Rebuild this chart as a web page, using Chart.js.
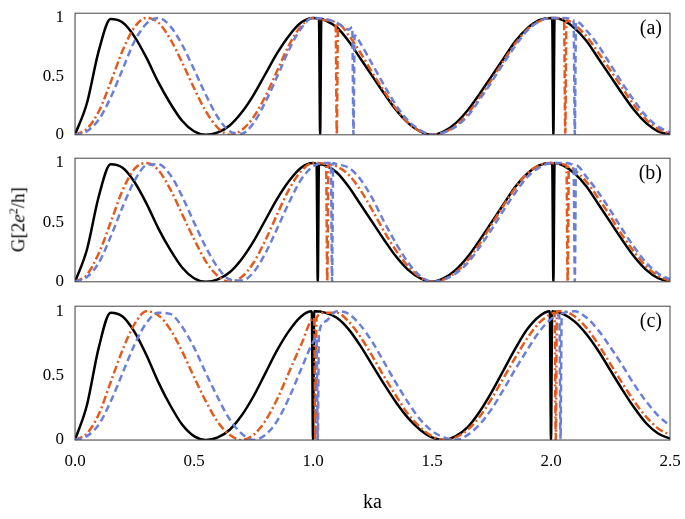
<!DOCTYPE html>
<html><head><meta charset="utf-8">
<script src="https://cdn.jsdelivr.net/npm/chart.js@4"></script>
<style>
body{margin:0;background:#fff;width:685px;height:519px;position:relative;overflow:hidden;font-family:"Liberation Serif",serif}
.p{position:absolute;left:0;width:685px}
#ylab{position:absolute;left:-32px;top:208px;width:100px;text-align:center;font-size:19px;transform:rotate(-90deg)}
</style></head><body>
<div class="p" style="top:0;height:148px"><canvas id="ca"></canvas></div>
<div class="p" style="top:145px;height:150px"><canvas id="cb"></canvas></div>
<div class="p" style="top:293px;height:226px"><canvas id="cc"></canvas></div>
<div id="ylab">G[2<i>e</i><sup style="font-size:12px">2</sup>/h]</div>
<script>
// ka grid, 0 .. 2.5 step 0.05
const kaGrid = [0,.05,.1,.15,.2,.25,.3,.35,.4,.45,.5,.55,.6,.65,.7,.75,.8,.85,.9,.95,1,1.05,1.1,1.15,1.2,1.25,1.3,1.35,1.4,1.45,1.5,1.55,1.6,1.65,1.7,1.75,1.8,1.85,1.9,1.95,2,2.05,2.1,2.15,2.2,2.25,2.3,2.35,2.4,2.45,2.5];
const xTicks = [0, 0.5, 1, 1.5, 2, 2.5];
const yTicks = [0, 0.5, 1];

// panel (a)
const aBlack  = [0,.27,.72,.99,.96,.84,.66,.45,.27,.12,.03,0,.02,.08,.19,.34,.52,.7,.85,.96,1,.98,.92,.8,.65,.5,.35,.21,.1,.03,0,.03,.1,.21,.35,.5,.65,.8,.91,.98,1,.98,.91,.8,.65,.5,.35,.21,.1,.03,0];
const aOrange = [0,.05,.2,.45,.72,.92,1,.96,.82,.62,.4,.2,.06,0,.04,.15,.33,.55,.77,.93,1,.98,.94,.85,.7,.53,.37,.22,.1,.03,0,.02,.08,.18,.32,.47,.63,.78,.9,.97,1,.99,.94,.84,.7,.55,.4,.25,.13,.05,.01];
const aBlue   = [0,.03,.13,.32,.56,.8,.95,1,.93,.77,.56,.34,.15,.03,.01,.1,.28,.5,.73,.91,1,.99,.96,.9,.78,.6,.42,.25,.12,.04,0,.02,.07,.16,.3,.45,.61,.76,.89,.97,1,1,.97,.89,.76,.6,.44,.29,.16,.07,.02];
const aBlackDipX  = [1.025,1.03,1.035, 2.005,2.01,2.015], aBlackDipY  = [.99,0,.99, 1,0,1];
const aOrangeDipX = [1.095,1.1,1.105, 2.055,2.06,2.065], aOrangeDipY = [.96,0,.95, .99,0,.98];
const aBlueDipX   = [1.165,1.17,1.175, 2.095,2.1,2.105], aBlueDipY   = [.92,0,.85, .98,0,.97];

// panel (b)
const bBlack  = [0,.27,.72,.99,.96,.84,.66,.45,.27,.12,.03,0,.02,.08,.19,.34,.52,.7,.85,.96,1,.98,.92,.8,.65,.5,.35,.21,.1,.03,0,.03,.1,.21,.35,.5,.65,.8,.91,.98,1,.98,.91,.8,.65,.5,.35,.21,.1,.03,0];
const bOrange = [0,.06,.24,.5,.77,.95,1,.94,.78,.57,.36,.17,.05,0,.04,.16,.35,.57,.78,.93,1,.99,.97,.9,.77,.6,.42,.26,.13,.04,0,.02,.08,.18,.32,.48,.64,.79,.91,.98,1,.99,.94,.84,.7,.55,.39,.25,.13,.05,.01];
const bBlue   = [0,.04,.16,.38,.63,.85,.98,.99,.9,.72,.5,.29,.12,.02,.01,.08,.24,.45,.67,.86,.97,1,.99,.96,.86,.7,.5,.32,.16,.05,0,.02,.07,.16,.29,.44,.6,.75,.88,.96,1,1,.97,.88,.75,.6,.44,.29,.16,.07,.02];
const bBlackDipX  = [1.015,1.02,1.025, 2.005,2.01,2.015], bBlackDipY  = [.99,0,.99, 1,0,1];
const bOrangeDipX = [1.055,1.06,1.065, 2.065,2.07,2.075], bOrangeDipY = [.99,0,.99, .98,0,.97];
const bBlueDipX   = [1.075,1.08,1.085, 2.095,2.1,2.105], bBlueDipY   = [1,0,1, .98,0,.98];

// panel (c)
const cBlack  = [0,.27,.72,.99,.96,.84,.66,.45,.27,.12,.03,0,.02,.08,.19,.34,.52,.7,.85,.96,1,.99,.95,.86,.73,.58,.43,.29,.17,.08,.02,0,.03,.1,.22,.37,.54,.71,.86,.96,1,.98,.92,.82,.69,.54,.39,.25,.13,.05,.01];
const cOrange = [0,.05,.2,.45,.7,.9,1,.97,.86,.69,.49,.3,.14,.04,0,.04,.15,.32,.53,.74,.9,.99,.99,.92,.8,.65,.49,.34,.2,.1,.03,0,.02,.08,.18,.32,.48,.64,.79,.91,.98,1,.96,.87,.74,.59,.44,.3,.18,.09,.04];
const cBlue   = [0,.03,.12,.3,.52,.74,.91,.99,.98,.88,.72,.52,.33,.16,.05,0,.04,.15,.33,.55,.76,.92,1,.98,.89,.76,.6,.44,.29,.16,.07,.02,0,.04,.12,.24,.39,.55,.7,.84,.94,.99,1,.95,.85,.72,.58,.43,.3,.19,.11];
const cBlackDipX  = [.995,1,1.005, 1.995,2,2.005], cBlackDipY  = [1,0,1, 1,0,1];
const cOrangeDipX = [1.005,1.01,1.015, 2.015,2.02,2.025], cOrangeDipY = [.95,0,.95, .99,0,1];
const cBlueDipX   = [1.015,1.02,1.025, 2.035,2.04,2.045], cBlueDipY   = [.8,0,.82, .97,0,.98];

function pts(ys, dx, dy) {
  const p = kaGrid.map((x, i) => ({x, y: ys[i]}))
    .filter(q => !dx.some(d => Math.abs(d - q.x) < 0.006));
  dx.forEach((x, i) => p.push({x, y: dy[i]}));
  return p.sort((a, b) => a.x - b.x);
}

const serif = '"Liberation Serif", serif';
const frame = {
  id: 'frame',
  afterDraw(c, a, o) {
    const {ctx, chartArea: ca} = c;
    ctx.save();
    ctx.strokeStyle = '#444'; ctx.lineWidth = 1;
    ctx.strokeRect(ca.left, ca.top, ca.right - ca.left, ca.bottom - ca.top);
    ctx.fillStyle = '#000'; ctx.font = '20px ' + serif;
    ctx.textAlign = 'right'; ctx.textBaseline = 'top';
    ctx.fillText(o.tag, ca.right - 8, ca.top + 6);
    ctx.restore();
  }
};

function panel(id, tag, bk, or, bl, bottom) {
  const ds = (data, color, dash) => ({data, borderColor: color, borderDash: dash, borderWidth: 2.5,
    pointRadius: 0, cubicInterpolationMode: 'monotone', fill: false});
  new Chart(document.getElementById(id), {
    type: 'line',
    data: {datasets: [
      ds(pts(...bl), '#6b7fd7', [7, 4]),
      ds(pts(...or), '#e35a1d', [8, 3, 2, 3]),
      ds(pts(...bk), '#000000', [])
    ]},
    options: {
      responsive: true, maintainAspectRatio: false, animation: false,
      layout: {padding: {top: 3, right: 15, bottom: bottom ? 0 : 3, left: 0}},
      plugins: {legend: {display: false}, tooltip: {enabled: false}, frame: {tag}},
      scales: {
        x: {type: 'linear', min: 0, max: 2.5, display: bottom,
          afterBuildTicks: s => { s.ticks = xTicks.map(v => ({value: v})); },
          afterFit: s => { s.height = bottom ? 79 : 0; },
          grid: {display: false},
          ticks: {color: '#000', font: {family: serif, size: 17}, callback: v => v.toFixed(1)},
          title: {display: true, text: 'ka', color: '#000', font: {family: serif, size: 20}, padding: {top: 16}}},
        y: {min: 0, max: 1.04,
          afterBuildTicks: s => { s.ticks = yTicks.map(v => ({value: v})); },
          afterFit: s => { s.width = 75; },
          grid: {display: false},
          ticks: {color: '#000', font: {family: serif, size: 17}, callback: v => String(v)}}
      }
    },
    plugins: [frame]
  });
}

panel('ca', '(a)', [aBlack, aBlackDipX, aBlackDipY], [aOrange, aOrangeDipX, aOrangeDipY], [aBlue, aBlueDipX, aBlueDipY], false);
panel('cb', '(b)', [bBlack, bBlackDipX, bBlackDipY], [bOrange, bOrangeDipX, bOrangeDipY], [bBlue, bBlueDipX, bBlueDipY], false);
panel('cc', '(c)', [cBlack, cBlackDipX, cBlackDipY], [cOrange, cOrangeDipX, cOrangeDipY], [cBlue, cBlueDipX, cBlueDipY], true);
</script>
</body></html>
